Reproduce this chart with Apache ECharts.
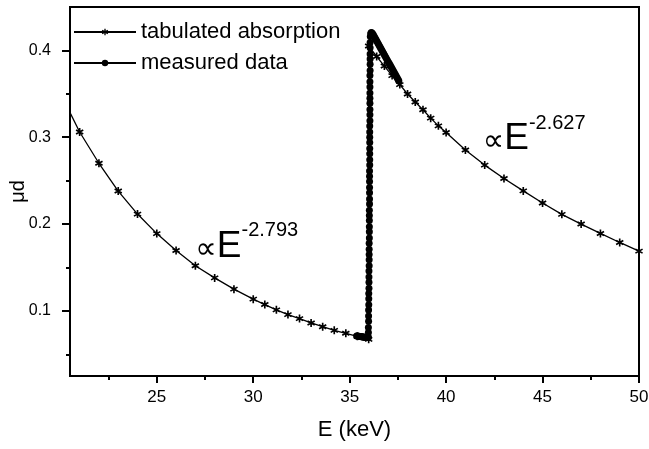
<!DOCTYPE html>
<html>
<head>
<meta charset="utf-8">
<script src="https://cdn.jsdelivr.net/npm/echarts@6/dist/echarts.min.js"></script>
<style>
html,body{margin:0;padding:0;background:#fff;}
#c{width:649px;height:449px;}
</style>
</head>
<body>
<div id="c"></div>
<script>
// Tabulated absorption (energy in keV, mu*d)
var tabE = [20, 21, 22, 23, 24, 25, 26, 27, 28, 29, 30, 30.6, 31.2, 31.8, 32.4, 33.0, 33.6, 34.2, 34.8, 35.4, 35.985, 35.985, 36.4, 36.8, 37.2, 37.6, 38.0, 38.4, 38.8, 39.2, 39.6, 40, 41, 42, 43, 44, 45, 46, 47, 48, 49, 50];
var tabMu = [0.351, 0.306, 0.270, 0.238, 0.2115, 0.189, 0.1695, 0.152, 0.138, 0.125, 0.1135, 0.1073, 0.1012, 0.0957, 0.0911, 0.0861, 0.0818, 0.0776, 0.0742, 0.0707, 0.0672, 0.405, 0.393, 0.382, 0.371, 0.3606, 0.3498, 0.3406, 0.3317, 0.3220, 0.3131, 0.3054, 0.2853, 0.2679, 0.2525, 0.2382, 0.2243, 0.2112, 0.2000, 0.1892, 0.1788, 0.1688];

// Measured data
var measE = [35.36, 35.40, 35.44, 35.48, 35.52, 35.56, 35.60, 35.64, 35.68, 35.72, 35.76, 35.80, 35.84, 35.88, 35.92, 35.95, 35.97,
  35.97, 35.97, 35.98, 35.98, 35.98, 35.99, 35.99, 35.99, 36.00, 36.00, 36.00, 36.00, 36.01, 36.01, 36.01, 36.01, 36.01,
  36.02, 36.02, 36.02, 36.02, 36.02, 36.02, 36.03, 36.03, 36.03, 36.03, 36.03, 36.03, 36.03,
  36.04, 36.04, 36.04, 36.04, 36.04, 36.04, 36.04, 36.04, 36.05, 36.05, 36.05, 36.05, 36.05, 36.05, 36.05, 36.05, 36.05,
  36.06, 36.06, 36.06, 36.06, 36.06, 36.06, 36.07,
  36.09, 36.12, 36.16, 36.21, 36.26, 36.31, 36.36, 36.41, 36.46, 36.51, 36.56, 36.61, 36.66, 36.71, 36.76, 36.81, 36.86, 36.91, 36.96, 37.01, 37.06, 37.11, 37.16, 37.21, 37.26, 37.31, 37.36, 37.41, 37.46, 37.51, 37.55];
var measMu = [0.0712, 0.0711, 0.0709, 0.0707, 0.0706, 0.0704, 0.0703, 0.0701, 0.0700, 0.0698, 0.0697, 0.0695, 0.0694, 0.0693, 0.0692, 0.0693, 0.0697,
  0.075, 0.081, 0.088, 0.094, 0.101, 0.107, 0.114, 0.120, 0.126, 0.133,
  0.139, 0.146, 0.152, 0.159, 0.165, 0.171, 0.178, 0.184, 0.191, 0.197,
  0.204, 0.210, 0.216, 0.223, 0.229, 0.236, 0.242, 0.249, 0.255, 0.261,
  0.268, 0.274, 0.281, 0.287, 0.294, 0.300, 0.306, 0.313, 0.319, 0.326,
  0.332, 0.339, 0.345, 0.351, 0.358, 0.364, 0.371, 0.377, 0.384, 0.390,
  0.396, 0.403, 0.409, 0.416,
  0.4195, 0.4205, 0.4200, 0.4185, 0.4165, 0.4145, 0.4125, 0.4105, 0.4085, 0.4065, 0.4045, 0.4025, 0.4005, 0.3985, 0.3965, 0.3945, 0.3925, 0.3905, 0.3885, 0.3865, 0.3845, 0.3825, 0.3805, 0.3785, 0.3765, 0.3745, 0.3725, 0.3705, 0.3685, 0.3665, 0.3648];

// Axis ticks
var xMajor = [25, 30, 35, 40, 45, 50];
var xMinor = [22.5, 27.5, 32.5, 37.5, 42.5, 47.5];
var yMajor = [0.1, 0.2, 0.3, 0.4];
var yMinor = [0.05, 0.15, 0.25, 0.35];

// Annotations: anchor [E, mu] and exponent text
var annE = [27.0, 41.9];
var annMu = [0.153, 0.277];
var annExp = ['-2.793', '-2.627'];

var FONT = '"Liberation Sans", Arial, Helvetica, sans-serif';
var tabData = tabE.map(function (e, i) { return [e, tabMu[i]]; });
var measData = measE.map(function (e, i) { return [e, measMu[i]]; });
var annData = annE.map(function (e, i) {
  return {
    value: [e, annMu[i]],
    label: { formatter: '{p|\u221D}{e|E}{s|' + annExp[i] + '}' }
  };
});

var star = 'path://M-1,-5 L1,-5 L1,5 L-1,5 Z M3.83,3.37 L-4.83,-1.63 L-3.83,-3.37 L4.83,1.63 Z M-4.83,1.63 L3.83,-3.37 L4.83,-1.63 L-3.83,3.37 Z';

var chart = echarts.init(document.getElementById('c'), null, { renderer: 'canvas' });
var axisCommon = { color: '#000', width: 2 };
chart.setOption({
  animation: false,
  backgroundColor: '#fff',
  textStyle: { fontFamily: FONT, color: '#000' },
  grid: { left: 70, right: 10, top: 7, bottom: 73, show: true, borderColor: '#000', borderWidth: 2, backgroundColor: 'transparent', containLabel: false, outerBoundsMode: 'none' },
  legend: {
    data: ['tabulated absorption', 'measured data'],
    orient: 'vertical', left: 68, top: 16, itemWidth: 62, itemHeight: 8, itemGap: 9,
    textStyle: { fontFamily: FONT, fontSize: 22, color: '#000' },
    selectedMode: false
  },
  xAxis: [{
    type: 'value', min: 20.5, max: 50, position: 'bottom',
    name: 'E (keV)', nameLocation: 'middle', nameGap: 43, nameMoveOverlap: false,
    nameTextStyle: { fontFamily: FONT, fontSize: 22, color: '#000' },
    axisLine: { show: true, lineStyle: axisCommon },
    axisTick: { show: true, inside: false, length: 7, lineStyle: axisCommon, customValues: xMajor },
    axisLabel: { show: true, customValues: xMajor, margin: 13, fontSize: 17, color: '#000', fontFamily: FONT },
    splitLine: { show: false }
  }, {
    type: 'value', min: 20.5, max: 50, position: 'bottom',
    axisLine: { show: false },
    axisTick: { show: true, inside: false, length: 4, lineStyle: axisCommon, customValues: xMinor },
    axisLabel: { show: false },
    splitLine: { show: false }
  }],
  yAxis: [{
    type: 'value', min: 0.025, max: 0.45, position: 'left',
    name: '\u03BCd', nameLocation: 'middle', nameGap: 42, nameMoveOverlap: false,
    nameTextStyle: { fontFamily: FONT, fontSize: 20, color: '#000' },
    axisLine: { show: true, lineStyle: axisCommon },
    axisTick: { show: true, inside: false, length: 8, lineStyle: axisCommon, customValues: yMajor },
    axisLabel: { show: true, customValues: yMajor, margin: 19, fontSize: 16, color: '#000', fontFamily: FONT,
      formatter: function (v) { return v.toFixed(1); } },
    splitLine: { show: false }
  }, {
    type: 'value', min: 0.025, max: 0.45, position: 'left',
    axisLine: { show: false },
    axisTick: { show: true, inside: false, length: 4, lineStyle: axisCommon, customValues: yMinor },
    axisLabel: { show: false },
    splitLine: { show: false }
  }],
  series: [{
    name: 'tabulated absorption', type: 'line', data: tabData,
    symbol: star, symbolSize: 8, showSymbol: true, clip: true,
    lineStyle: { color: '#000', width: 1.3 },
    itemStyle: { color: '#000' },
    z: 2
  }, {
    name: 'measured data', type: 'line', data: measData,
    symbol: 'circle', symbolSize: 7, showSymbol: true, clip: true,
    lineStyle: { color: '#000', width: 1.3 },
    itemStyle: { color: '#000' },
    z: 3
  }, {
    name: 'ann', type: 'scatter', data: annData, symbolSize: 0, silent: true,
    itemStyle: { opacity: 1 },
    label: {
      show: true, position: [0, 0], align: 'left', verticalAlign: 'bottom', color: '#000', opacity: 1,
      rich: {
        p: { fontFamily: '"DejaVu Sans", sans-serif', fontSize: 30, color: '#000', verticalAlign: 'bottom', lineHeight: 32 },
        e: { fontFamily: FONT, fontSize: 37, color: '#000', verticalAlign: 'bottom', lineHeight: 44 },
        s: { fontFamily: FONT, fontSize: 20, color: '#000', verticalAlign: 'top', lineHeight: 20 }
      }
    },
    z: 5
  }]
});
</script>
</body>
</html>
